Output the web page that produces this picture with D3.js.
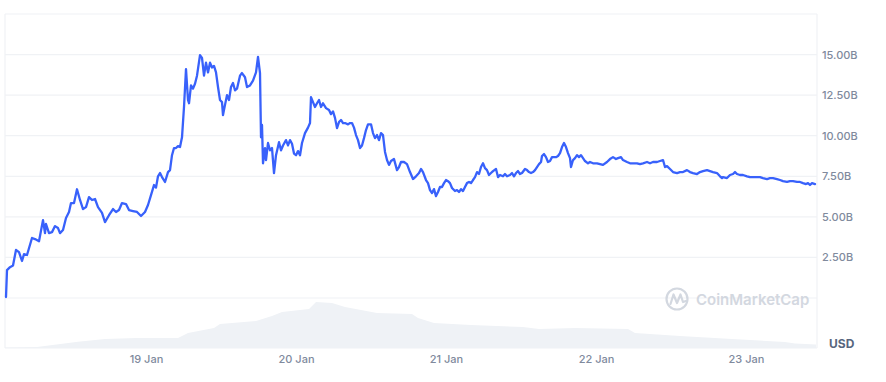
<!DOCTYPE html>
<html><head><meta charset="utf-8">
<script src="https://cdn.jsdelivr.net/npm/d3@7"></script>
<style>
html,body{margin:0;padding:0;background:#fff;}
svg{display:block;font-family:Inter,"Noto Sans",sans-serif;}
</style></head>
<body>
<svg id="chart" width="886" height="382"></svg>
<script>
// Hours since 18 Jan 00:00, market cap in billions USD
const marketCap = [
[1.6,0.06],[1.76,1.72],[2.24,1.9],[2.72,2.0],[3.2,2.96],[3.68,2.83],[4.16,2.28],[4.48,2.7],[4.96,2.65],[5.76,3.7],
[6.24,3.63],[6.88,3.5],[7.52,4.8],[7.84,4.0],[8.0,4.56],[8.48,4.0],[8.96,4.06],[9.44,4.43],[9.92,4.31],[10.24,4.0],
[10.72,4.19],[11.2,4.93],[11.68,5.3],[12.0,5.85],[12.48,5.85],[12.96,6.7],[13.44,6.04],[13.92,5.48],[14.4,5.6],[14.88,6.22],
[15.36,6.04],[15.84,6.1],[16.32,5.6],[16.96,5.24],[17.44,4.68],[18.08,5.1],[18.72,5.48],[19.2,5.3],[19.68,5.42],[20.16,5.85],
[20.8,5.79],[21.28,5.42],[21.92,5.36],[22.56,5.3],[23.2,5.05],[23.84,5.3],[24.32,5.73],[24.8,6.34],[25.28,6.96],[25.6,6.8],
[25.92,7.5],[26.24,7.7],[26.56,7.45],[27.04,7.15],[27.52,7.76],[27.84,7.88],[28.16,8.8],[28.48,9.24],[28.8,9.24],[29.12,9.36],
[29.44,9.3],[29.76,9.9],[30.08,11.77],[30.4,14.1],[30.72,12.2],[30.88,12.0],[31.2,13.1],[31.52,12.9],[31.84,13.2],[32.16,13.7],
[32.64,14.97],[32.96,14.8],[33.28,13.7],[33.6,14.5],[33.92,13.9],[34.24,14.5],[34.56,14.2],[34.88,14.3],[35.2,13.9],[35.52,13.0],
[35.84,12.2],[36.16,12.07],[36.32,11.27],[36.64,11.9],[36.96,12.5],[37.28,12.2],[37.6,13.0],[37.92,13.25],[38.24,12.8],[38.56,12.9],
[39.04,13.7],[39.36,13.86],[39.84,13.6],[40.16,13.0],[40.64,13.1],[41.12,13.4],[41.6,13.9],[41.92,14.85],[42.24,13.86],[42.4,9.9],
[42.56,10.66],[42.72,8.3],[43.04,9.24],[43.2,8.5],[43.52,9.55],[43.84,9.1],[44.16,9.24],[44.48,7.7],[44.8,8.8],[45.28,9.6],
[45.6,9.1],[45.92,9.4],[46.4,9.73],[46.72,9.4],[47.04,9.73],[47.36,9.5],[47.68,8.9],[48.0,8.8],[48.32,9.05],[48.64,8.8],
[48.96,9.55],[49.44,10.16],[49.92,10.5],[50.24,10.78],[50.4,12.38],[50.72,12.07],[51.04,11.77],[51.36,12.0],[51.68,12.2],[52.0,11.77],
[52.32,12.0],[52.8,11.7],[53.28,11.58],[53.6,11.33],[53.92,11.5],[54.24,11.1],[54.56,10.47],[54.88,10.84],[55.2,10.97],[55.52,10.78],
[55.84,10.78],[56.32,10.7],[56.64,10.78],[56.96,10.78],[57.28,10.5],[57.6,10.04],[57.92,9.73],[58.24,9.24],[58.56,9.4],[58.88,9.85],
[59.2,10.35],[59.52,10.7],[60.0,10.7],[60.32,10.16],[60.64,9.85],[60.96,10.04],[61.28,9.73],[61.6,10.16],[61.92,10.04],[62.24,9.0],
[62.56,8.5],[62.88,8.2],[63.2,8.44],[63.68,8.56],[64.16,7.88],[64.48,8.07],[64.8,8.38],[65.28,8.38],[65.76,8.25],[66.24,7.76],
[66.72,7.33],[67.2,7.5],[67.68,7.7],[68.0,7.95],[68.32,7.76],[68.8,7.27],[69.12,7.08],[69.44,6.65],[69.76,6.47],[70.08,6.71],
[70.4,6.28],[70.72,6.53],[71.04,6.84],[71.36,6.84],[71.68,7.08],[72.0,7.27],[72.32,7.2],[72.64,7.08],[72.96,6.78],[73.44,6.59],
[73.76,6.65],[74.08,6.53],[74.4,6.71],[74.72,6.59],[75.04,6.84],[75.36,7.08],[75.68,7.15],[76.0,7.08],[76.32,7.27],[76.64,7.45],
[76.96,7.76],[77.28,7.64],[77.6,8.07],[77.92,8.3],[78.24,8.0],[78.56,7.88],[78.88,7.58],[79.2,7.7],[79.52,7.82],[80.0,7.95],
[80.32,7.45],[80.64,7.58],[81.12,7.5],[81.44,7.64],[81.76,7.5],[82.24,7.58],[82.56,7.7],[82.88,7.5],[83.2,7.7],[83.52,7.82],
[83.84,7.64],[84.16,7.7],[84.64,7.95],[84.96,7.88],[85.28,7.76],[85.6,7.7],[85.92,7.76],[86.24,7.88],[86.56,8.07],[86.88,8.25],
[87.2,8.38],[87.36,8.75],[87.68,8.87],[88.0,8.68],[88.32,8.38],[88.64,8.44],[88.96,8.68],[89.28,8.68],[89.6,8.68],[89.92,8.75],
[90.24,8.93],[90.56,9.3],[90.88,9.55],[91.2,9.3],[91.52,8.93],[91.84,8.62],[92.0,8.07],[92.32,8.5],[92.64,8.62],[92.96,8.8],
[93.28,8.68],[93.6,8.8],[93.92,8.62],[94.24,8.44],[94.72,8.3],[95.04,8.38],[95.52,8.3],[96.16,8.3],[96.64,8.25],[97.12,8.2],
[97.76,8.38],[98.24,8.56],[98.72,8.68],[99.2,8.56],[99.52,8.62],[100.0,8.68],[100.32,8.5],[100.96,8.38],[101.44,8.3],[101.92,8.3],
[102.56,8.3],[103.04,8.25],[103.52,8.3],[104.16,8.38],[104.64,8.3],[105.12,8.38],[105.76,8.38],[106.24,8.44],[106.72,8.5],[107.04,8.07],
[107.36,8.13],[107.84,7.95],[108.32,7.76],[108.96,7.7],[109.44,7.76],[109.92,7.76],[110.56,7.88],[111.04,7.76],[111.52,7.7],[112.16,7.64],
[112.64,7.76],[113.12,7.82],[113.76,7.88],[114.24,7.82],[114.72,7.76],[115.36,7.7],[115.84,7.5],[116.16,7.39],[116.32,7.45],[116.96,7.39],
[117.44,7.58],[117.92,7.64],[118.24,7.76],[118.56,7.64],[119.04,7.58],[119.52,7.58],[120.16,7.5],[120.64,7.45],[121.12,7.45],[121.76,7.45],
[122.24,7.45],[122.72,7.39],[123.36,7.33],[123.84,7.39],[124.32,7.39],[124.96,7.33],[125.44,7.27],[125.92,7.2],[126.56,7.15],[127.04,7.2],
[127.52,7.2],[128.16,7.15],[128.64,7.15],[129.12,7.08],[129.6,7.02],[129.92,7.08],[130.24,6.96],[130.56,7.08],[131.04,7.02]
];
// Hours since 18 Jan 00:00, relative trading volume (unlabelled)
const volume = [
[1.44,0.5],[6.56,1],[13.12,6.3],[17.44,9],[22.4,10],[29.12,10],[30.72,15],[34.88,20],[35.84,24],[41.6,27],
[44.16,32],[45.76,36],[50.08,39],[51.2,46],[53.76,45],[55.84,41],[60.96,35],[66.56,34],[67.52,30],[70.08,25],
[76.0,23],[84.32,21],[86.88,19],[92.64,20],[101.12,19],[102.24,15],[109.44,12],[117.76,9],[126.24,6],[127.84,4.4],[131.2,3.5]
];
const yTicks = [2.5, 5, 7.5, 10, 12.5, 15];
const gridValues = [0, 2.5, 5, 7.5, 10, 12.5, 15, 17.5];
const dayTicks = ["2021-01-19","2021-01-20","2021-01-21","2021-01-22","2021-01-23"];
const startHour = 1.44, endHour = 131.36;
const currencyLabel = "USD";
const watermark = "CoinMarketCap";

const base = new Date(2021, 0, 18, 0, 0, 0).getTime();
const toDate = h => new Date(base + h * 3600e3);

const svg = d3.select("#chart");
const L = 5, R = 817, T = 14, B0 = 298, VB = 348;

const x = d3.scaleTime().domain([toDate(startHour), toDate(endHour)]).range([L, R]);
const y = d3.scaleLinear().domain([0, 17.5]).range([B0, T]);
const yv = d3.scaleLinear().domain([0, 50]).range([VB, B0]);

// volume area
svg.append("path")
  .datum(volume)
  .attr("fill", "#eff2f6")
  .attr("d", d3.area().x(d => x(toDate(d[0]))).y0(VB).y1(d => yv(d[1])));

// grid lines
svg.append("g").selectAll("line").data(gridValues).join("line")
  .attr("x1", L).attr("x2", R)
  .attr("y1", d => y(d)).attr("y2", d => y(d))
  .attr("stroke", "#f0f2f5").attr("stroke-width", 1.2);
// frame
[[L, T, L, VB], [R, T, R, VB], [L, VB, R, VB]].forEach(c => {
  svg.append("line").attr("x1", c[0]).attr("y1", c[1]).attr("x2", c[2]).attr("y2", c[3])
    .attr("stroke", "#f0f2f5").attr("stroke-width", 1.2);
});

// y labels
const yAxis = d3.axisRight(y).tickValues(yTicks).tickSize(0).tickPadding(0)
  .tickFormat(d => d3.format(".2f")(d) + "B");
const gy = svg.append("g").attr("transform", `translate(822,0)`).call(yAxis);
gy.select(".domain").remove();
gy.selectAll("text").attr("fill", "#808a9d").attr("font-size", 11).attr("font-weight", 500)
  .attr("font-family", "Inter, 'Noto Sans', sans-serif");

svg.append("text").attr("x", 829).attr("y", 348).text(currencyLabel)
  .attr("fill", "#58667e").attr("font-size", 12).attr("font-weight", 700);

// x labels
const xAxis = d3.axisBottom(x).tickValues(dayTicks.map(s => { const p = s.split("-"); return new Date(+p[0], +p[1] - 1, +p[2]); }))
  .tickSize(0).tickPadding(0).tickFormat(d3.timeFormat("%-d %b"));
const gx = svg.append("g").attr("transform", `translate(0,355)`).call(xAxis);
gx.select(".domain").remove();
gx.selectAll("text").attr("fill", "#808a9d").attr("font-size", 11).attr("font-weight", 500)
  .attr("font-family", "Inter, 'Noto Sans', sans-serif");

// watermark
const wm = svg.append("g").attr("opacity", 0.9);
wm.append("circle").attr("cx", 677).attr("cy", 299).attr("r", 10.5)
  .attr("fill", "none").attr("stroke", "#cfd4dd").attr("stroke-width", 2.2);
wm.append("path").attr("d", "M670.5,304 L673.5,294.5 L677,303 L680.5,294.5 L683,302 L686,301")
  .attr("fill", "none").attr("stroke", "#cfd4dd").attr("stroke-width", 2.2)
  .attr("stroke-linejoin", "round").attr("stroke-linecap", "round");
wm.append("text").attr("x", 696).attr("y", 304.5).text(watermark)
  .attr("fill", "#cfd4dd").attr("font-size", 15).attr("font-weight", 600);

// market cap line
svg.append("path")
  .datum(marketCap)
  .attr("fill", "none").attr("stroke", "#3861fb").attr("stroke-width", 2.3)
  .attr("stroke-linejoin", "round").attr("stroke-linecap", "round")
  .attr("d", d3.line().x(d => x(toDate(d[0]))).y(d => y(d[1])));
</script>
</body></html>
